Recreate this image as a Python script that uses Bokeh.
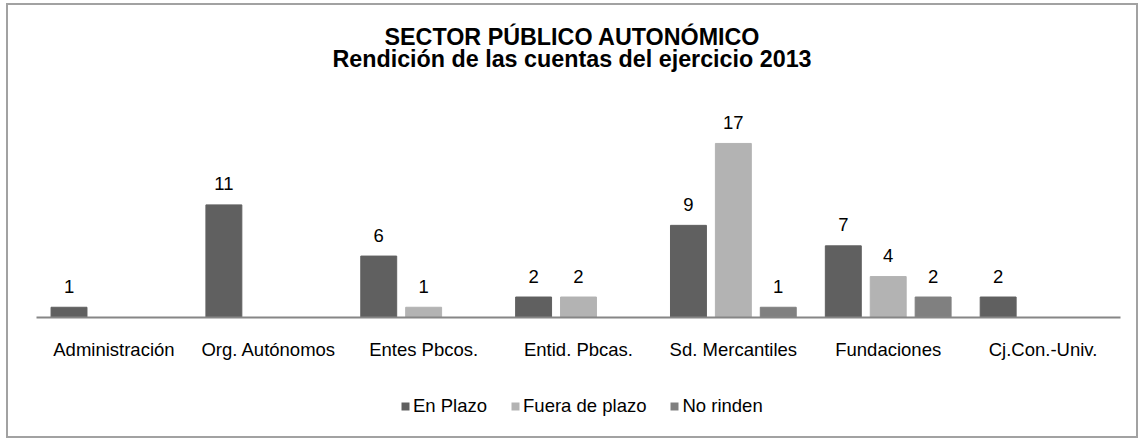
from bokeh.plotting import figure
from bokeh.models import ColumnDataSource, FactorRange, Range1d, Legend, LegendItem, Div
from bokeh.layouts import column
from bokeh.transform import dodge
from bokeh.core.properties import value
from bokeh.embed import file_html
from bokeh.resources import INLINE

categories = ["Administración", "Org. Autónomos", "Entes Pbcos.", "Entid. Pbcas.",
              "Sd. Mercantiles", "Fundaciones", "Cj.Con.-Univ."]
series_names = ["En Plazo", "Fuera de plazo", "No rinden"]
en_plazo = [1, 11, 6, 2, 9, 7, 2]
fuera_de_plazo = [0, 0, 1, 2, 17, 4, 0]
no_rinden = [0, 0, 0, 0, 1, 2, 0]
series_values = [en_plazo, fuera_de_plazo, no_rinden]
title_lines = ["SECTOR PÚBLICO AUTONÓMICO", "Rendición de las cuentas del ejercicio 2013"]
colors = ["#606060", "#b3b3b3", "#808080"]
offsets = [-0.29, 0.0, 0.29]

FONT = "Liberation Sans"
W = 1128

# ---- title block ----
title = Div(
    text=('<div style="font-family:\'Liberation Sans\';font-size:23.3px;font-weight:bold;'
          'color:black;text-align:center;line-height:22px;padding-top:21px;width:%dpx;">'
          % W) + "<br>".join(title_lines) + "</div>",
    width=W, height=97, margin=0)

# ---- main chart ----
p = figure(width=W, height=275, output_backend="svg", toolbar_location=None, title=None,
           x_range=FactorRange(factors=categories, range_padding=0),
           y_range=Range1d(0, 21),
           min_border_left=28, min_border_right=16, min_border_top=0, min_border_bottom=60,
           margin=0)
p.outline_line_color = None
p.background_fill_color = "white"
p.border_fill_color = "white"
p.xgrid.visible = False
p.ygrid.visible = False
p.yaxis.visible = False

ax = p.xaxis[0]
ax.axis_line_color = "#868686"
ax.axis_line_width = 2
ax.major_tick_line_color = None
ax.minor_tick_line_color = None
ax.major_tick_out = 0
ax.major_tick_in = 0
ax.major_label_text_font = FONT
ax.major_label_text_font_size = "18.5px"
ax.major_label_text_color = "black"
ax.major_label_standoff = 21

for name, vals, col, off in zip(series_names, series_values, colors, offsets):
    cats = [c for c, v in zip(categories, vals) if v]
    vs = [v for v in vals if v]
    src = ColumnDataSource(dict(cat=cats, val=vs, lab=[str(v) for v in vs]))
    p.vbar(x=dodge("cat", off, range=p.x_range), top="val", width=0.232,
           source=src, fill_color=col, line_color=col)
    p.text(x=dodge("cat", off, range=p.x_range), y="val", text="lab", source=src,
           text_align="center", text_baseline="alphabetic", y_offset=-21,
           text_font=value(FONT), text_font_size="18.5px", text_color="black")

# ---- legend strip ----
q = figure(width=W, height=59, output_backend="svg", toolbar_location=None, title=None,
           x_range=Range1d(0, 1), y_range=Range1d(0, 1),
           x_axis_location=None, y_axis_location=None, min_border=0, margin=0)
q.outline_line_color = None
for g in q.grid:
    g.visible = False
items = []
for name, col in zip(series_names, colors):
    # zero-size swatch carrier (draws nothing itself; only feeds the legend swatch)
    r = q.vbar(x=[0], top=[0], width=0, fill_color=col, line_color=None)
    items.append(LegendItem(label=name, renderers=[r]))
legend = Legend(items=items, orientation="horizontal", location=(364, 19),
                glyph_width=10, glyph_height=10, label_standoff=3, spacing=23,
                padding=0, margin=0, border_line_color=None,
                background_fill_alpha=0,
                label_text_font=FONT, label_text_font_size="18.5px",
                label_text_color="black")
q.add_layout(legend, "center")

layout = column(title, p, q, spacing=0, margin=(5, 0, 0, 8))
layout.styles = {"outline": "2px solid #a2a2a2", "background-color": "white"}

open("out.html", "w").write(file_html(layout, INLINE))
